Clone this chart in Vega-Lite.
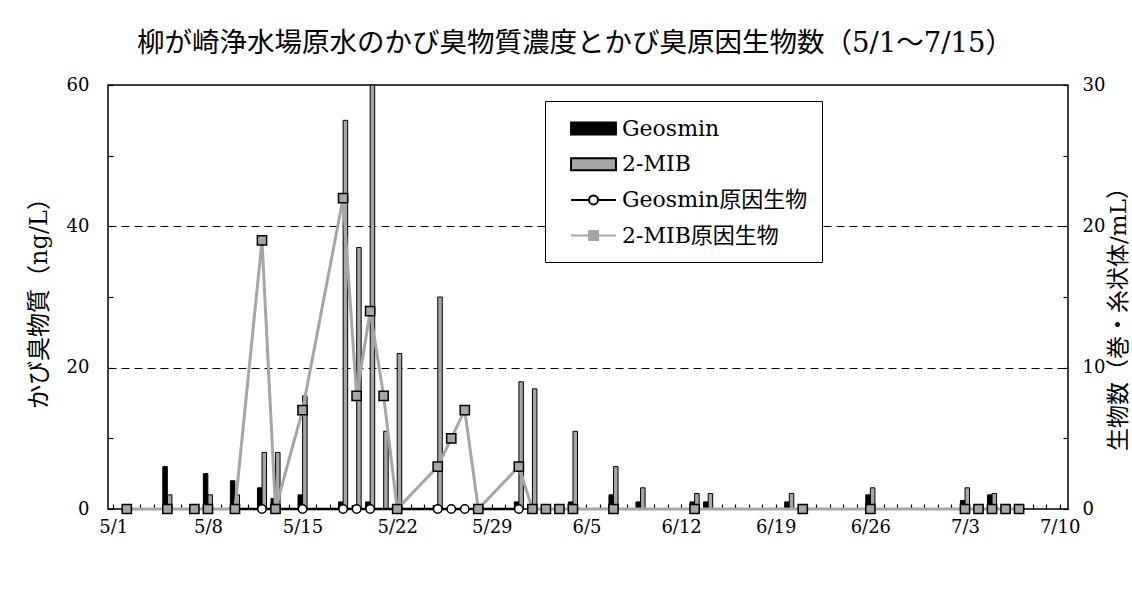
{
  "$schema": "https://vega.github.io/schema/vega-lite/v6.json",
  "width": 960,
  "height": 424,
  "autosize": {"type": "none"},
  "padding": {"left": 108, "top": 85, "right": 64, "bottom": 83},
  "background": "white",
  "title": {
    "text": "柳が崎浄水場原水のかび臭物質濃度とかび臭原因生物数（5/1～7/15）",
    "fontSize": 27.5,
    "font": "DejaVu Serif, Noto Sans CJK JP",
    "fontWeight": "normal",
    "color": "black",
    "offset": 19,
    "dx": -13
  },
  "config": {
    "view": {"stroke": "black", "strokeWidth": 1.5},
    "font": "DejaVu Serif, Noto Sans CJK JP",
    "axis": {
      "domain": false,
      "labelColor": "black",
      "titleColor": "black",
      "tickColor": "black",
      "labelFont": "DejaVu Serif, Noto Sans CJK JP",
      "titleFont": "DejaVu Serif, Noto Sans CJK JP",
      "labelFontSize": 18,
      "titleFontSize": 24,
      "titleFontWeight": "normal"
    },
    "legend": {
      "labelFont": "DejaVu Serif, Noto Sans CJK JP",
      "labelFontSize": 22,
      "labelColor": "black"
    }
  },
  "data": {
    "values": [
      {"date": "2024-05-05", "series": "Geosmin", "value": 6},
      {"date": "2024-05-08", "series": "Geosmin", "value": 5},
      {"date": "2024-05-10", "series": "Geosmin", "value": 4},
      {"date": "2024-05-12", "series": "Geosmin", "value": 3},
      {"date": "2024-05-13", "series": "Geosmin", "value": 1.5},
      {"date": "2024-05-15", "series": "Geosmin", "value": 2},
      {"date": "2024-05-18", "series": "Geosmin", "value": 1},
      {"date": "2024-05-19", "series": "Geosmin", "value": 0.5},
      {"date": "2024-05-20", "series": "Geosmin", "value": 1},
      {"date": "2024-05-22", "series": "Geosmin", "value": 0.5},
      {"date": "2024-05-25", "series": "Geosmin", "value": 0.5},
      {"date": "2024-05-31", "series": "Geosmin", "value": 1},
      {"date": "2024-06-04", "series": "Geosmin", "value": 1},
      {"date": "2024-06-07", "series": "Geosmin", "value": 2},
      {"date": "2024-06-09", "series": "Geosmin", "value": 1},
      {"date": "2024-06-13", "series": "Geosmin", "value": 1},
      {"date": "2024-06-14", "series": "Geosmin", "value": 1},
      {"date": "2024-06-20", "series": "Geosmin", "value": 1},
      {"date": "2024-06-26", "series": "Geosmin", "value": 2},
      {"date": "2024-07-03", "series": "Geosmin", "value": 1.2},
      {"date": "2024-07-05", "series": "Geosmin", "value": 2},
      {"date": "2024-05-05", "series": "2-MIB", "value": 2},
      {"date": "2024-05-08", "series": "2-MIB", "value": 2},
      {"date": "2024-05-10", "series": "2-MIB", "value": 2},
      {"date": "2024-05-12", "series": "2-MIB", "value": 8},
      {"date": "2024-05-13", "series": "2-MIB", "value": 8},
      {"date": "2024-05-15", "series": "2-MIB", "value": 16},
      {"date": "2024-05-18", "series": "2-MIB", "value": 55},
      {"date": "2024-05-19", "series": "2-MIB", "value": 37},
      {"date": "2024-05-20", "series": "2-MIB", "value": 60},
      {"date": "2024-05-21", "series": "2-MIB", "value": 11},
      {"date": "2024-05-22", "series": "2-MIB", "value": 22},
      {"date": "2024-05-25", "series": "2-MIB", "value": 30},
      {"date": "2024-05-31", "series": "2-MIB", "value": 18},
      {"date": "2024-06-01", "series": "2-MIB", "value": 17},
      {"date": "2024-06-04", "series": "2-MIB", "value": 11},
      {"date": "2024-06-07", "series": "2-MIB", "value": 6},
      {"date": "2024-06-09", "series": "2-MIB", "value": 3},
      {"date": "2024-06-13", "series": "2-MIB", "value": 2.2},
      {"date": "2024-06-14", "series": "2-MIB", "value": 2.2},
      {"date": "2024-06-20", "series": "2-MIB", "value": 2.2},
      {"date": "2024-06-26", "series": "2-MIB", "value": 3},
      {"date": "2024-07-03", "series": "2-MIB", "value": 3},
      {"date": "2024-07-05", "series": "2-MIB", "value": 2.2},
      {"date": "2024-05-10", "series": "Geosmin原因生物", "value": 0},
      {"date": "2024-05-12", "series": "Geosmin原因生物", "value": 0},
      {"date": "2024-05-15", "series": "Geosmin原因生物", "value": 0},
      {"date": "2024-05-18", "series": "Geosmin原因生物", "value": 0},
      {"date": "2024-05-19", "series": "Geosmin原因生物", "value": 0},
      {"date": "2024-05-20", "series": "Geosmin原因生物", "value": 0},
      {"date": "2024-05-22", "series": "Geosmin原因生物", "value": 0},
      {"date": "2024-05-25", "series": "Geosmin原因生物", "value": 0},
      {"date": "2024-05-26", "series": "Geosmin原因生物", "value": 0},
      {"date": "2024-05-27", "series": "Geosmin原因生物", "value": 0},
      {"date": "2024-05-28", "series": "Geosmin原因生物", "value": 0},
      {"date": "2024-05-31", "series": "Geosmin原因生物", "value": 0},
      {"date": "2024-05-02", "series": "2-MIB原因生物", "value": 0},
      {"date": "2024-05-05", "series": "2-MIB原因生物", "value": 0},
      {"date": "2024-05-07", "series": "2-MIB原因生物", "value": 0},
      {"date": "2024-05-08", "series": "2-MIB原因生物", "value": 0},
      {"date": "2024-05-10", "series": "2-MIB原因生物", "value": 0},
      {"date": "2024-05-12", "series": "2-MIB原因生物", "value": 19},
      {"date": "2024-05-13", "series": "2-MIB原因生物", "value": 0},
      {"date": "2024-05-15", "series": "2-MIB原因生物", "value": 7},
      {"date": "2024-05-18", "series": "2-MIB原因生物", "value": 22},
      {"date": "2024-05-19", "series": "2-MIB原因生物", "value": 8},
      {"date": "2024-05-20", "series": "2-MIB原因生物", "value": 14},
      {"date": "2024-05-21", "series": "2-MIB原因生物", "value": 8},
      {"date": "2024-05-22", "series": "2-MIB原因生物", "value": 0},
      {"date": "2024-05-25", "series": "2-MIB原因生物", "value": 3},
      {"date": "2024-05-26", "series": "2-MIB原因生物", "value": 5},
      {"date": "2024-05-27", "series": "2-MIB原因生物", "value": 7},
      {"date": "2024-05-28", "series": "2-MIB原因生物", "value": 0},
      {"date": "2024-05-31", "series": "2-MIB原因生物", "value": 3},
      {"date": "2024-06-01", "series": "2-MIB原因生物", "value": 0},
      {"date": "2024-06-02", "series": "2-MIB原因生物", "value": 0},
      {"date": "2024-06-03", "series": "2-MIB原因生物", "value": 0},
      {"date": "2024-06-04", "series": "2-MIB原因生物", "value": 0},
      {"date": "2024-06-07", "series": "2-MIB原因生物", "value": 0},
      {"date": "2024-06-13", "series": "2-MIB原因生物", "value": 0},
      {"date": "2024-06-21", "series": "2-MIB原因生物", "value": 0},
      {"date": "2024-06-26", "series": "2-MIB原因生物", "value": 0},
      {"date": "2024-07-03", "series": "2-MIB原因生物", "value": 0},
      {"date": "2024-07-04", "series": "2-MIB原因生物", "value": 0},
      {"date": "2024-07-05", "series": "2-MIB原因生物", "value": 0},
      {"date": "2024-07-06", "series": "2-MIB原因生物", "value": 0},
      {"date": "2024-07-07", "series": "2-MIB原因生物", "value": 0}
    ],
    "format": {"parse": {"date": "utc:'%Y-%m-%d'"}}
  },
  "encoding": {
    "x": {
      "field": "date",
      "type": "temporal",
      "title": null,
      "scale": {
        "type": "utc",
        "domain": [
          {"year": 2024, "month": 4, "date": 30, "hours": 23, "minutes": 30, "utc": true},
          {"year": 2024, "month": 7, "date": 10, "hours": 6, "utc": true}
        ]
      },
      "axis": {
        "tickCount": {"interval": "day", "step": 1},
        "labelExpr": "round((datum.value - utc(2024,4,1)) / 86400000) % 7 == 0 ? utcFormat(datum.value, '%-m/%-d') : ''",
        "labelOverlap": false,
        "labelFlush": false,
        "labelBound": false,
        "tickSize": -5,
        "tickWidth": 1.2,
        "labelPadding": 14,
        "grid": false
      }
    }
  },
  "layer": [
    {
      "encoding": {
        "y": {
          "field": "value",
          "type": "quantitative",
          "scale": {"domain": [0, 60], "nice": false},
          "axis": {
            "title": "かび臭物質（ng/L）",
            "values": [0, 10, 20, 30, 40, 50, 60],
            "labelExpr": "datum.value % 20 == 0 ? datum.label : ''",
            "tickSize": -5,
            "tickWidth": 1.2,
            "labelPadding": 24,
            "titlePadding": 15,
            "grid": true,
            "gridColor": "black",
            "gridDash": [8, 5],
            "gridWidth": 1.2,
            "gridOpacity": {"condition": {"test": "datum.value % 20 != 0 || datum.value == 0 || datum.value == 60", "value": 0}, "value": 1}
          }
        },
        "fill": {
          "field": "series",
          "type": "nominal",
          "scale": {
            "domain": ["Geosmin", "2-MIB", "Geosmin原因生物", "2-MIB原因生物"],
            "range": ["black", "#a6a6a6", "white", "#a6a6a6"]
          },
          "legend": {
            "title": null,
            "orient": "none",
            "legendX": 437,
            "legendY": 16,
            "padding": 14.5,
            "strokeColor": "black",
            "fillColor": "white",
            "symbolSize": 576,
            "symbolOpacity": 1,
            "symbolStrokeWidth": 2,
            "rowPadding": 11.7,
            "labelOffset": 36.5,
            "labelLimit": 400
          }
        }
      },
      "layer": [
        {
          "transform": [{"filter": "datum.series == 'Geosmin'"}],
          "mark": {"type": "bar", "width": 4.5, "xOffset": -2.3, "stroke": "black", "strokeWidth": 1}
        },
        {
          "transform": [{"filter": "datum.series == '2-MIB'"}],
          "mark": {"type": "bar", "width": 4.5, "xOffset": 2.3, "stroke": "black", "strokeWidth": 1}
        },
        {
          "transform": [{"filter": "datum.value < 0"}],
          "mark": {"type": "point", "filled": true, "opacity": 1, "strokeWidth": 2},
          "encoding": {
            "shape": {
              "field": "series",
              "type": "nominal",
              "scale": {
                "domain": ["Geosmin", "2-MIB", "Geosmin原因生物", "2-MIB原因生物"],
                "range": [
                  "M-0.12,-0.5H3.62V0.5H-0.12Z",
                  "M-0.12,-0.5H3.62V0.5H-0.12Z",
                  "M-0.12,0H1.375M2.125,0H3.62M2.125,0A0.375,0.375 0 1 1 1.375,0A0.375,0.375 0 1 1 2.125,0Z",
                  "M-0.12,0H1.375M2.125,0H3.62M1.375,-0.375H2.125V0.375H1.375Z"
                ]
              },
              "legend": {
                "title": null,
                "orient": "none",
                "legendX": 437,
                "legendY": 16,
                "padding": 14.5,
                "strokeColor": "black",
                "fillColor": "white",
                "symbolSize": 576,
                "symbolOpacity": 1,
                "symbolStrokeWidth": 2,
                "rowPadding": 11.7,
                "labelOffset": 36.5,
                "labelLimit": 400
              }
            },
            "stroke": {
              "field": "series",
              "type": "nominal",
              "scale": {
                "domain": ["Geosmin", "2-MIB", "Geosmin原因生物", "2-MIB原因生物"],
                "range": ["black", "black", "black", "#a6a6a6"]
              },
              "legend": {
                "title": null,
                "orient": "none",
                "legendX": 437,
                "legendY": 16,
                "padding": 14.5,
                "strokeColor": "black",
                "fillColor": "white",
                "symbolSize": 576,
                "symbolOpacity": 1,
                "symbolStrokeWidth": 2,
                "rowPadding": 11.7,
                "labelOffset": 36.5,
                "labelLimit": 400
              }
            }
          }
        }
      ]
    },
    {
      "encoding": {
        "y": {
          "field": "value",
          "type": "quantitative",
          "scale": {"domain": [0, 30], "nice": false},
          "axis": {
            "orient": "right",
            "title": "生物数（巻・糸状体/mL）",
            "titleAngle": 270,
            "titleBaseline": "top",
            "titleFontSize": 23,
            "titleY": 228,
            "values": [0, 5, 10, 15, 20, 25, 30],
            "labelExpr": "datum.value % 10 == 0 ? datum.label : ''",
            "tickSize": -5,
            "tickWidth": 1.2,
            "labelPadding": 19,
            "titlePadding": 3,
            "grid": false
          }
        }
      },
      "layer": [
        {
          "transform": [{"filter": "datum.series == 'Geosmin原因生物'"}],
          "mark": {"type": "line", "color": "black", "strokeWidth": 2.5}
        },
        {
          "transform": [{"filter": "datum.series == 'Geosmin原因生物'"}],
          "mark": {"type": "point", "shape": "circle", "size": 70, "filled": true, "fill": "white", "stroke": "black", "strokeWidth": 1.5, "opacity": 1}
        },
        {
          "transform": [{"filter": "datum.series == '2-MIB原因生物'"}],
          "mark": {"type": "line", "color": "#a6a6a6", "strokeWidth": 3}
        },
        {
          "transform": [{"filter": "datum.series == '2-MIB原因生物'"}],
          "mark": {"type": "point", "shape": "square", "size": 85, "filled": true, "fill": "#a6a6a6", "stroke": "black", "strokeWidth": 1.5, "opacity": 1}
        }
      ]
    }
  ],
  "resolve": {"scale": {"y": "independent"}}
}
